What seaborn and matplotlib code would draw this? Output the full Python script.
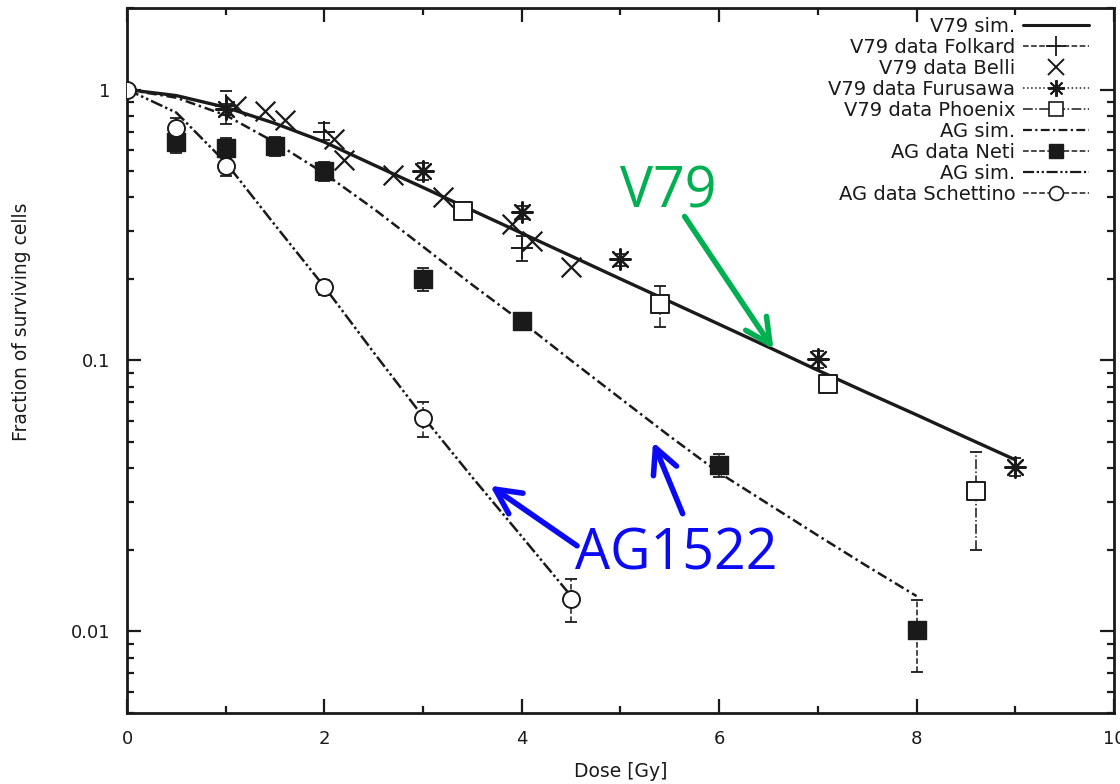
import numpy as np
import seaborn as sns
import matplotlib.pyplot as plt
from matplotlib.lines import Line2D
from matplotlib.ticker import LogLocator, NullFormatter

# simulated survival curves
v79_sim_dose = [0, 0.5, 1, 1.5, 2, 2.5, 3, 3.5, 4, 4.5, 5, 5.5, 6, 6.5, 7, 7.5, 8, 8.5, 9]
v79_sim_surv = [1.0, 0.95, 0.86, 0.75, 0.64, 0.527, 0.435, 0.358, 0.295, 0.243, 0.20,
                0.165, 0.136, 0.112, 0.092, 0.076, 0.063, 0.052, 0.043]
ag_sim1_dose = [0, 0.5, 1, 1.5, 2, 2.5, 3, 3.5, 4, 4.5, 5, 5.5, 6, 6.5, 7, 7.5, 8]
ag_sim1_surv = [1.0, 0.933, 0.804, 0.638, 0.49, 0.363, 0.263, 0.19, 0.139, 0.10, 0.0724,
                0.0525, 0.0385, 0.0295, 0.0226, 0.0174, 0.0135]
ag_sim2_dose = [0, 0.5, 1, 1.5, 2, 2.5, 3, 3.5, 4, 4.5]
ag_sim2_surv = [1.0, 0.822, 0.538, 0.316, 0.187, 0.107, 0.062, 0.037, 0.0224, 0.0135]

# measured data
folkard_dose = [1, 2, 4]
folkard_surv = [0.866, 0.70, 0.26]
folkard_err = [0.12, 0.05, 0.028]

belli_dose = [1.1, 1.4, 1.6, 2.1, 2.2, 2.7, 3.2, 3.9, 4.1, 4.5]
belli_surv = [0.87, 0.83, 0.775, 0.655, 0.55, 0.485, 0.40, 0.32, 0.275, 0.222]

furusawa_dose = [1, 3, 4, 5, 7, 9]
furusawa_surv = [0.845, 0.50, 0.352, 0.236, 0.101, 0.0405]
furusawa_err = [0.04, 0.035, 0.02, 0.012, 0.007, 0.003]

phoenix_dose = [3.4, 5.4, 7.1, 8.6]
phoenix_surv = [0.355, 0.161, 0.082, 0.033]
phoenix_err = [0.01, 0.028, 0.004, 0.013]

neti_dose = [0.5, 1, 1.5, 2, 3, 4, 6, 8]
neti_surv = [0.643, 0.61, 0.617, 0.50, 0.20, 0.14, 0.041, 0.0101]
neti_err = [0.06, 0.05, 0.05, 0.04, 0.02, 0.008, 0.004, 0.003]

schettino_dose = [0, 0.5, 1, 2, 3, 4.5]
schettino_surv = [1.0, 0.724, 0.52, 0.187, 0.0614, 0.0132]
schettino_err = [0.0, 0.06, 0.04, 0.012, 0.009, 0.0024]

sns.set_theme(style="ticks", rc={'text.color': 'k', 'axes.labelcolor': 'k',
                                 'xtick.color': 'k', 'ytick.color': 'k'})
plt.rcParams['font.family'] = ['DejaVu Sans']

fig, ax = plt.subplots(figsize=(11.2, 7.84), dpi=100)
fig.subplots_adjust(left=0.1134, right=0.9946, bottom=0.0906, top=0.9898)

ls_ag1 = (0, (4, 1.5, 1, 1.5))
ls_ag2 = (0, (5, 1.2, 1, 1.2, 1, 1.2))

# simulation lines
sns.lineplot(x=v79_sim_dose, y=v79_sim_surv, color='k', lw=2.4, ax=ax)
sns.lineplot(x=ag_sim1_dose, y=ag_sim1_surv, color='k', lw=1.8, linestyle=ls_ag1, ax=ax)
sns.lineplot(x=ag_sim2_dose, y=ag_sim2_surv, color='k', lw=1.8, linestyle=ls_ag2, ax=ax)


def bars(x, y, err, ls):
    eb = ax.errorbar(x, y, yerr=err, fmt='none', ecolor='k', elinewidth=1.1,
                     capsize=4, capthick=1.3, zorder=2)
    eb[2][0].set_linestyle(ls)


bars(folkard_dose, folkard_surv, folkard_err, '--')
bars(furusawa_dose, furusawa_surv, furusawa_err, ':')
bars(phoenix_dose, phoenix_surv, phoenix_err, '-.')
bars(neti_dose, neti_surv, neti_err, '--')
bars(schettino_dose, schettino_surv, schettino_err, '--')

star = (8, 2, 0)
sns.scatterplot(x=folkard_dose, y=folkard_surv, marker='+', s=260, color='k', linewidth=1.4, ax=ax, zorder=3)
sns.scatterplot(x=belli_dose, y=belli_surv, marker='x', s=200, color='k', linewidth=1.6, ax=ax, zorder=3)
sns.scatterplot(x=furusawa_dose, y=furusawa_surv, marker=star, s=220, color='k', linewidth=1.6, ax=ax, zorder=3)
sns.scatterplot(x=phoenix_dose, y=phoenix_surv, marker='s', s=170, color='white', edgecolor='k', linewidth=1.4, ax=ax, zorder=3)
sns.scatterplot(x=neti_dose, y=neti_surv, marker='s', s=170, color='k', edgecolor='k', linewidth=1, ax=ax, zorder=3)
sns.scatterplot(x=schettino_dose, y=schettino_surv, marker='o', s=150, color='white', edgecolor='k', linewidth=1.4, ax=ax, zorder=3)

ax.set_yscale('log')
ax.set_xlim(0, 10)
ax.set_ylim(0.005, 2.0)
ax.set_yticks([0.01, 0.1, 1])
ax.set_yticklabels(['0.01', '0.1', '1'])
ax.yaxis.set_minor_locator(LogLocator(base=10, subs=np.arange(2, 10) * 1.0, numticks=20))
ax.yaxis.set_minor_formatter(NullFormatter())
ax.set_xticks(range(0, 11, 2))
ax.set_xticks(range(1, 10, 2), minor=True)
ax.tick_params(which='both', direction='in', top=True, right=True, width=1.6, color='k')
ax.tick_params(which='major', length=10, labelsize=13, pad=12)
ax.tick_params(which='minor', length=5)
for sp in ax.spines.values():
    sp.set_linewidth(2)
    sp.set_color('k')

ax.set_xlabel('Dose [Gy]', fontsize=13.5)
ax.set_ylabel('Fraction of surviving cells', fontsize=13.5)
ax.xaxis.set_label_coords(0.5, -0.07)
ax.yaxis.set_label_coords(-0.097, 0.555)

handles = [
    Line2D([], [], color='k', lw=2.2),
    Line2D([], [], color='k', lw=1.1, ls='--', marker='+', ms=14, mew=1.3),
    Line2D([], [], color='k', lw=0, marker='x', ms=11, mew=1.4),
    Line2D([], [], color='k', lw=1.1, ls=':', marker=star, ms=12, mew=1.4),
    Line2D([], [], color='k', lw=1.1, ls='-.', marker='s', ms=10, mfc='white', mew=1.2),
    Line2D([], [], color='k', lw=1.6, ls=ls_ag1),
    Line2D([], [], color='k', lw=1.1, ls='--', marker='s', ms=10),
    Line2D([], [], color='k', lw=1.6, ls=ls_ag2),
    Line2D([], [], color='k', lw=1.1, ls='--', marker='o', ms=10, mfc='white', mew=1.2),
]
labels = ['V79 sim.', 'V79 data Folkard', 'V79 data Belli', 'V79 data Furusawa',
          'V79 data Phoenix', 'AG sim.', 'AG data Neti', 'AG sim.', 'AG data Schettino']
ax.legend(handles, labels, loc='upper right', bbox_to_anchor=(0.975, 0.987),
          frameon=False, markerfirst=False, fontsize=14, handlelength=3.4,
          labelspacing=0.1, borderpad=0, borderaxespad=0, handletextpad=0.4)

# coloured annotations
green = '#00B050'
blue = '#0A0AF5'
ax.text(5.48, 0.414, 'V79', color=green, fontsize=40, family='Open Sans', ha='center', va='center')
ax.annotate('', xy=(6.55, 0.110), xytext=(5.65, 0.34),
            arrowprops=dict(arrowstyle='->,head_length=0.9,head_width=0.45', color=green, lw=4,
                            mutation_scale=20, shrinkA=0, shrinkB=0))
ax.text(5.57, 0.0192, 'AG1522', color=blue, fontsize=40, family='Open Sans', ha='center', va='center')
ax.annotate('', xy=(3.68, 0.0345), xytext=(4.56, 0.0207),
            arrowprops=dict(arrowstyle='->,head_length=0.9,head_width=0.45', color=blue, lw=4,
                            mutation_scale=20, shrinkA=0, shrinkB=0))
ax.annotate('', xy=(5.33, 0.050), xytext=(5.63, 0.0272),
            arrowprops=dict(arrowstyle='->,head_length=0.9,head_width=0.45', color=blue, lw=4,
                            mutation_scale=20, shrinkA=0, shrinkB=0))

fig.savefig('out.png', dpi=100)
